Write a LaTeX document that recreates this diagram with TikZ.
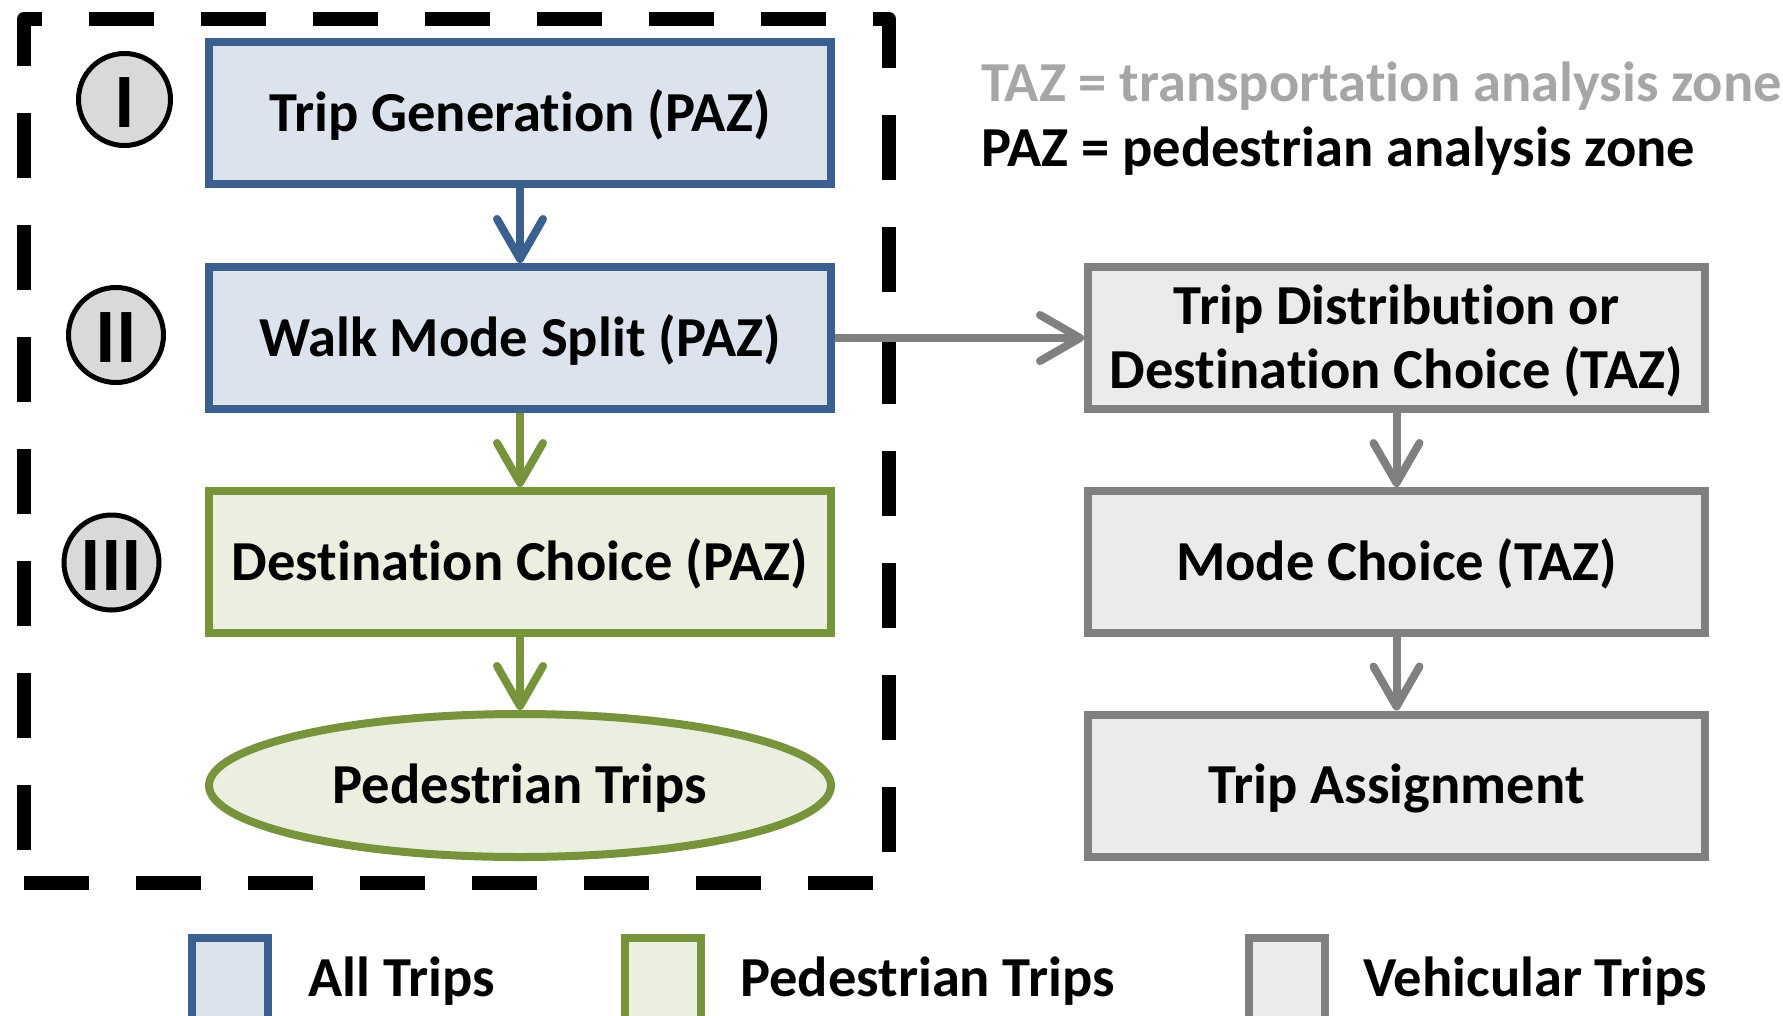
\documentclass[tikz,border=0pt]{standalone}
\usepackage{fontspec}
\setmainfont{Carlito}[Ligatures=NoCommon]
\usetikzlibrary{arrows.meta,shapes.geometric}

\definecolor{allLine}{HTML}{3B5F8F}
\definecolor{allFill}{HTML}{DCE3EC}
\definecolor{pedLine}{HTML}{77933C}
\definecolor{pedFill}{HTML}{EAEFE0}
\definecolor{vehLine}{HTML}{808080}
\definecolor{vehFill}{HTML}{EBEBEB}
\definecolor{stageFill}{HTML}{D9D9D9}
\definecolor{noteGray}{HTML}{A6A6A6}

\tikzset{
  label font/.style={font=\fontsize{56.5}{64}\selectfont\bfseries},
  stepbox/.style={draw, line width=8pt, inner sep=0pt, label font,
    minimum width=622pt, minimum height=142pt,
    text height=36pt, text depth=0pt, align=center},
  allbox/.style={stepbox, draw=allLine, fill=allFill},
  pedbox/.style={stepbox, draw=pedLine, fill=pedFill},
  vehbox/.style={stepbox, draw=vehLine, fill=vehFill, minimum width=617pt},
  pedend/.style={ellipse, draw=pedLine, fill=pedFill, line width=8pt,
    inner sep=0pt, label font, minimum width=622pt, minimum height=143pt,
    text height=36pt, text depth=0pt},
  stage/.style={circle, draw=black, fill=stageFill, line width=5pt,
    inner sep=0pt, font=\fontsize{77}{77}\selectfont\bfseries,
    text height=55pt, text depth=0pt},
  flow/.style={line width=8pt,
    -{Straight Barb[length=40pt,width=46pt,round]}},
  frame/.style={draw=black, line width=14pt, line join=round,
    dash pattern=on 65pt off 47pt, dash phase=79pt},
  legsq/.style={draw, line width=8pt, inner sep=0pt,
    minimum width=76pt, minimum height=100pt},
  plain/.style={inner sep=0pt, label font, anchor=base west}
}

\begin{document}
\begin{tikzpicture}[x=1pt,y=-1pt]
  \clip (0,0) rectangle (1783,1015);
  \fill[white] (0,0) rectangle (1783,1015);

  % walking part of the model, framed by the dashed outline
  \draw[frame] (24,883) -- (24,19) -- (889,19) -- (889,883) -- cycle;

  \node[allbox] (gen)  at (520,113)   {Trip Generation (PAZ)};
  \node[allbox] (walk) at (520,338)   {Walk Mode Split (PAZ)};
  \node[pedbox] (dest) at (520,562)   {Destination Choice (PAZ)};
  \node[pedend] (ped)  at (520,785.5) {Pedestrian Trips};

  \node[stage, minimum size=92pt] (s1) at (124.5,99.5) {I};
  \node[stage, minimum size=95pt] (s2) at (116,335)    {II};
  \node[stage, minimum size=95pt] (s3) at (111.5,562.5) {III};

  % vehicular part of the model
  \node[vehbox, text height=100pt] (dist) at (1396.5,338)
    {Trip Distribution or\\Destination Choice (TAZ)};
  \node[vehbox] (mode)   at (1396.5,562)   {Mode Choice (TAZ)};
  \node[vehbox] (assign) at (1396.5,785.5) {Trip Assignment};

  \draw[flow, draw=allLine] (gen)  -- (walk);
  \draw[flow, draw=pedLine] (walk) -- (dest);
  \draw[flow, draw=pedLine] (dest) -- (ped);
  \draw[flow, draw=vehLine] (walk) -- (dist);
  \draw[flow, draw=vehLine] (dist) -- (mode);
  \draw[flow, draw=vehLine] (mode) -- (assign);

  % zone definitions
  \node[plain, text=noteGray] (tazdef) at (981,101) {TAZ = transportation analysis zone};
  \node[plain] (pazdef) at (981,166) {PAZ = pedestrian analysis zone};

  % legend
  \node[legsq, draw=allLine, fill=allFill] (legA) at (230,988)  {};
  \node[legsq, draw=pedLine, fill=pedFill] (legP) at (662.5,988) {};
  \node[legsq, draw=vehLine, fill=vehFill] (legV) at (1287,988) {};
  \node[plain] (legAt) at (308,996)  {All Trips};
  \node[plain] (legPt) at (740,996)  {Pedestrian Trips};
  \node[plain] (legVt) at (1363,996) {Vehicular Trips};
\end{tikzpicture}
\end{document}
